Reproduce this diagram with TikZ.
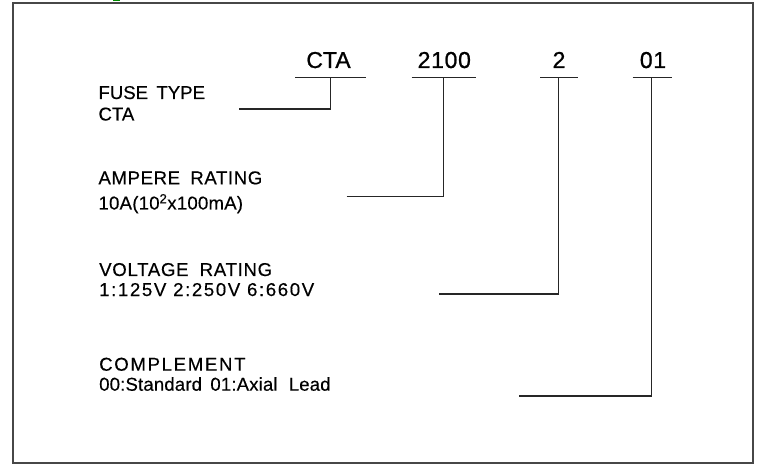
\documentclass[tikz,border=0pt]{standalone}
\usepackage{fontspec}
\setmainfont{Liberation Sans}
\newfontfamily\codefont[FakeBold=0.9]{Liberation Sans}
\newfontfamily\lblfont[FakeBold=0.35]{Liberation Sans}
\newcommand{\lsp}[2]{{\addfontfeature{LetterSpace=#1}#2}}
\begin{document}
\begin{tikzpicture}[x=1pt,y=-1pt,
  codetext/.style={inner sep=0pt,anchor=base,font=\codefont\fontsize{23}{27}\selectfont},
  labeltext/.style={inner sep=0pt,anchor=base west,font=\lblfont\fontsize{18.6}{22}\selectfont},
  uline/.style={line width=1.3pt,draw=black!85},
  conn/.style={line width=1.3pt,draw=black!85},
  frame/.style={line width=2.4pt,draw=black!72}]
\useasboundingbox (0,0) rectangle (763,465);
% clipped fragment at top
\fill[green!55!black] (112.5,0) rectangle (119.5,1.2);
% outer frame
\draw[frame] (13,2.8) rectangle (753,463);
% code characters
\node[codetext] (cCTA) at (328.5,68) {CTA};
\node[codetext] (c2100) at (444.3,68) {\lsp{3}{2100}};
\node[codetext] (c2) at (559,68) {2};
\node[codetext] (c01) at (653,68) {\lsp{3}{01}};
% underline coordinates
\coordinate (uaL) at (295,77.3);   \coordinate (uaR) at (365.7,77.3); \coordinate (ja) at (330.7,77.3);
\coordinate (ubL) at (411.7,77.3); \coordinate (ubR) at (476,77.3);   \coordinate (jb) at (443.5,77.3);
\coordinate (ucL) at (540,77.3);   \coordinate (ucR) at (578,77.3);   \coordinate (jc) at (558.7,77.3);
\coordinate (udL) at (632.7,77.3); \coordinate (udR) at (671.5,77.3); \coordinate (jd) at (651.7,77.3);
\draw[uline] (uaL) -- (uaR);
\draw[uline] (ubL) -- (ubR);
\draw[uline] (ucL) -- (ucR);
\draw[uline] (udL) -- (udR);
% labels
\node[labeltext] (l1a) at (98.3,99) {FUSE\hspace{0.45em}TYPE};
\node[labeltext] (l1b) at (98.3,120.5) {CTA};
\node[labeltext] (l2a) at (98.3,184.3) {\lsp{3.3}{AMPERE\hspace{0.55em}RATING}};
\node[labeltext] (l2b) at (98.3,209.5) {\lsp{1.2}{10A(10\textsuperscript{2}x100mA)}};
\node[labeltext] (l3a) at (99,276) {\lsp{3.8}{VOLTAGE\hspace{0.6em}RATING}};
\node[labeltext] (l3b) at (99,296) {\lsp{8.8}{1:125V 2:250V 6:660V}};
\node[labeltext] (l4a) at (99,370.7) {\lsp{9}{COMPLEMENT}};
\node[labeltext] (l4b) at (99,390.7) {\lsp{0.8}{00:Standard\hspace{0.45em}01:Axial\hspace{0.6em}Lead}};
% connector free ends
\coordinate (ea) at (239,109);
\coordinate (eb) at (346.5,196.7);
\coordinate (ec) at (439.3,294);
\coordinate (ed) at (519,396);
\draw[conn] (ea) -| (ja);
\draw[conn] (eb) -| (jb);
\draw[conn] (ec) -| (jc);
\draw[conn] (ed) -| (jd);
\end{tikzpicture}
\end{document}
